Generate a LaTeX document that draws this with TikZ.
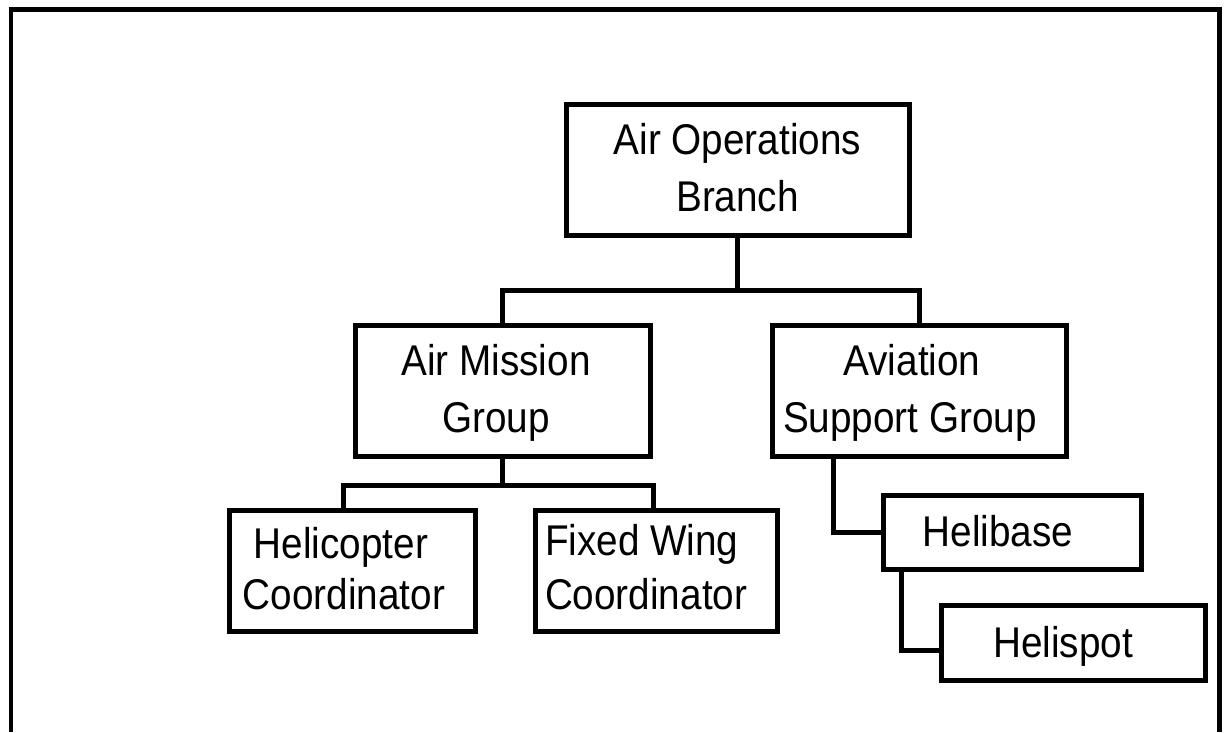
\documentclass[tikz,border=0pt]{standalone}
\usepackage{fontspec}
\setmainfont{Liberation Sans}[FakeStretch=0.9]
\begin{document}
\begin{tikzpicture}[x=1pt,y=-1pt,
  box/.style={draw, line width=5pt, rectangle, inner sep=0pt, outer sep=0pt},
  lbl/.style={inner sep=0pt, outer sep=0pt, anchor=base, font=\fontsize{43}{50}\selectfont},
  lblw/.style={lbl, anchor=base west},
  link/.style={line width=5pt},
  frame/.style={line width=4.5pt}]
\useasboundingbox (0,0) rectangle (1226,732);
% outer frame, open at the bottom
\draw[frame] (11,732) -- (11,9.5) -- (1219.5,9.5) -- (1219.5,732);

% boxes
\node[box, minimum width=343, minimum height=131] (aob) at (737.5,169.5) {};
\node[box, minimum width=295, minimum height=131.5] (amg) at (502.5,391) {};
\node[box, minimum width=294, minimum height=131.5] (asg) at (919,391) {};
\node[box, minimum width=246, minimum height=120.5] (hc) at (352,570.75) {};
\node[box, minimum width=242, minimum height=120.5] (fwc) at (656,570.75) {};
\node[box, minimum width=258, minimum height=74] (hb) at (1012,532) {};
\node[box, minimum width=264, minimum height=75] (hs) at (1073,642.5) {};

% labels
\node[lbl] (aob1) at (737.5,154) {Air Operations};
\node[lbl] (aob2) at (737.5,211) {Branch};
\node[lbl] (amg1) at (496,375.5) {Air Mission};
\node[lbl] (amg2) at (496,432.5) {Group};
\node[lbl] (asg1) at (912,375.5) {Aviation};
\node[lbl] (asg2) at (910,432.5) {Support Group};
\node[lbl] (hc1) at (341,558) {Helicopter};
\node[lbl] (hc2) at (344,609) {Coordinator};
\node[lblw] (fwc1) at (545,555) {Fixed Wing};
\node[lblw] (fwc2) at (545,609) {Coordinator};
\node[lbl] (hb1) at (998,546) {Helibase};
\node[lbl] (hs1) at (1063,657) {Helispot};

% connectors
\draw[link] (aob.south) -- ++(0,55) coordinate (split1);
\draw[link] (amg.north) |- (split1) -| (asg.north);
\draw[link] (amg.south) -- ++(0,29) coordinate (split2);
\draw[link] ([xshift=-9pt]hc.north) |- (split2) -| ([xshift=-3pt]fwc.north);
\draw[link] ([xshift=61pt]asg.south west) |- (hb.west);
\draw[link] ([xshift=18pt]hb.south west) |- ([yshift=-8pt]hs.west);
\end{tikzpicture}
\end{document}
